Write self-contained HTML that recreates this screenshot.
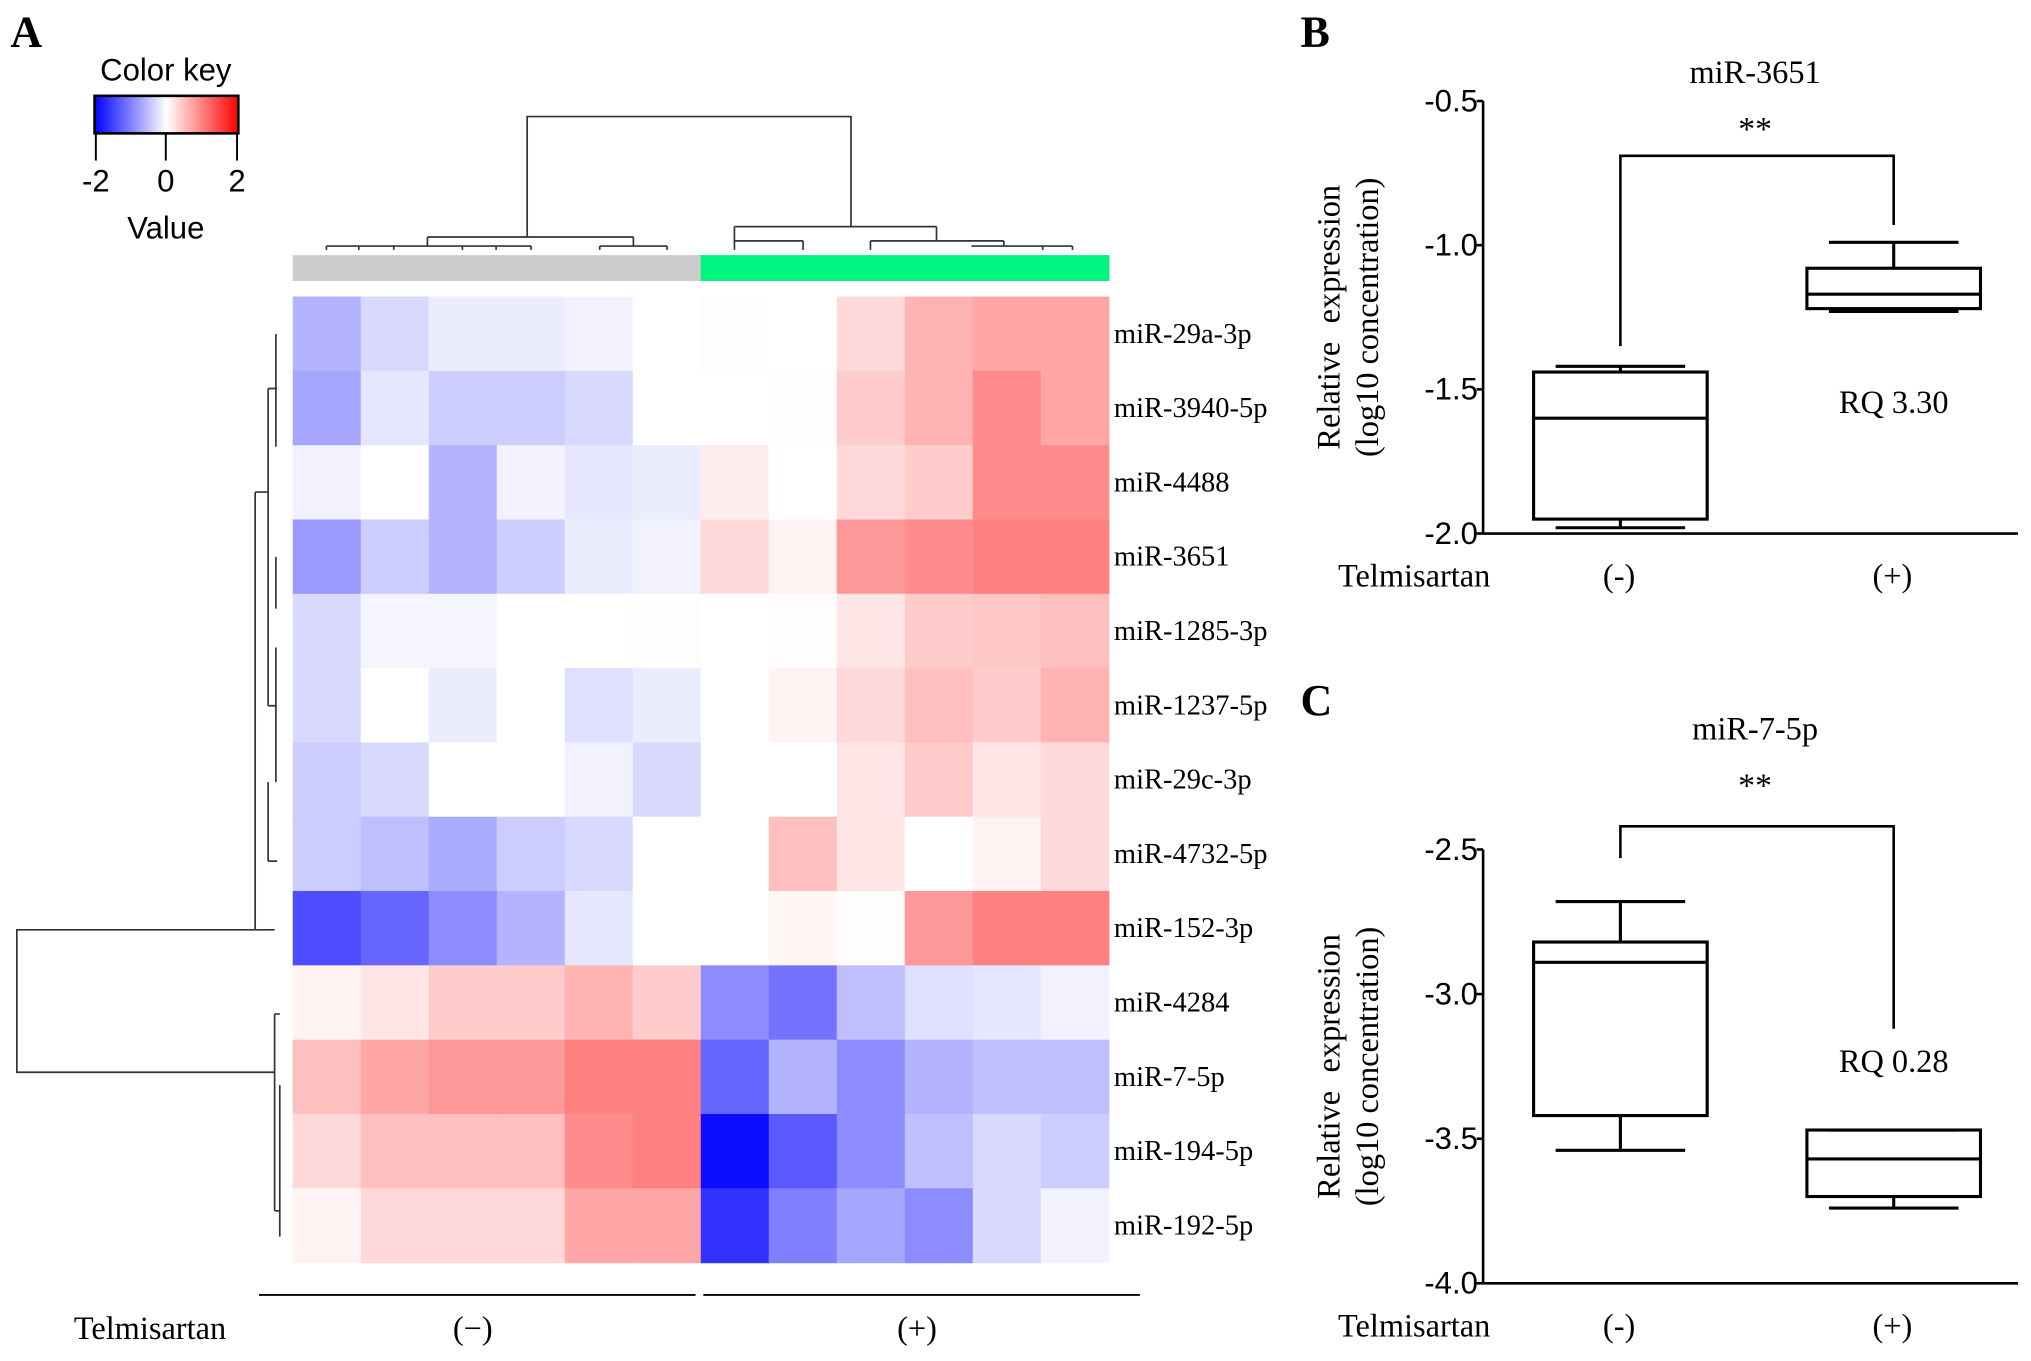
<!DOCTYPE html>
<html><head><meta charset="utf-8"><style>
html,body{margin:0;padding:0;background:#fff;width:2031px;height:1361px;overflow:hidden}
svg{display:block}
.serif{font-family:"Liberation Serif",serif}
.sans{font-family:"Liberation Sans",sans-serif}
</style></head><body>
<svg id="fig" width="2031" height="1361" viewBox="0 0 1568 1051" preserveAspectRatio="none" xmlns="http://www.w3.org/2000/svg">
<g id="panelA">
 <text class="serif" x="8" y="36" font-size="34" font-weight="bold">A</text>
 <text class="sans" x="128" y="62" font-size="24" text-anchor="middle">Color key</text>
 <defs><linearGradient id="ck" x1="0" x2="1"><stop offset="0" stop-color="#0000ff"/><stop offset="0.5" stop-color="#ffffff"/><stop offset="1" stop-color="#ff0000"/></linearGradient></defs>
 <rect x="73" y="74" width="111" height="29" fill="url(#ck)" stroke="#000" stroke-width="2"/>
 <g stroke="#000" stroke-width="1.5"><line x1="74" y1="103" x2="74" y2="124"/><line x1="128" y1="103" x2="128" y2="124"/><line x1="183" y1="103" x2="183" y2="124"/></g>
 <g class="sans" font-size="24" text-anchor="middle"><text x="74" y="148">-2</text><text x="128" y="148">0</text><text x="183" y="148">2</text></g>
 <text class="sans" x="128" y="184" font-size="24" text-anchor="middle">Value</text>
 <g id="coldend" fill="none" stroke="#333" stroke-width="1.3">
  <path d="M407 183 V90 H657 V175"/>
  <path d="M330 183 H489 M489 183 V190 M463 190 H515 M463 190 V193 M515 190 V193"/>
  <path d="M330 183 V190 M277 190 H383 M277 190 V193 M383 190 V193 M252 190 H304 M252 190 V193 M304 190 V193 M357 190 H410 M357 190 V193 M410 190 V193"/>
  <path d="M567 175 H723 M567 175 V190 M567 186 H620 M567 186 V193 M620 186 V193 M723 175 V186 M672 186 H775 M672 186 V193 M775 186 V190 M750 190 H805 M805 190 V193 M780 190 H828 M828 190 V193"/>
 </g>
 <g id="rowdend" fill="none" stroke="#333" stroke-width="1.3">
  <path d="M212 828 H13 V718 H197"/>
  <path d="M197 718 V380 M197 718 H212 M197 380 H207 M207 300 V545 M207 300 H214 M207 545 H213 M213 258 V345 M213 430 V470 M213 500 V604 M207 604 V665 M207 665 H214"/>
  <path d="M212 783 V935 M212 783 H216 M212 935 H216 M216 838 V895 M216 895 V955"/>
 </g>
 <g id="heat"></g>
 <g id="rowlabels" class="serif" font-size="22"></g>
 <g stroke="#000" stroke-width="1.5"><line x1="200" y1="1000" x2="537" y2="1000"/><line x1="543" y1="1000" x2="880" y2="1000"/></g>
 <text class="serif" x="57" y="1034" font-size="25">Telmisartan</text>
 <text class="serif" x="365" y="1034" font-size="25" text-anchor="middle">(−)</text>
 <text class="serif" x="708" y="1034" font-size="25" text-anchor="middle">(+)</text>
</g>
<text class="serif" x="1004" y="36" font-size="34" font-weight="bold">B</text>
<text class="serif" x="1004" y="552" font-size="34" font-weight="bold">C</text>
<g id="panelB"></g>
<g id="panelC"></g>
</svg>
<script>
const NS='http://www.w3.org/2000/svg';
const rowNames=['miR-29a-3p','miR-3940-5p','miR-4488','miR-3651','miR-1285-3p','miR-1237-5p','miR-29c-3p','miR-4732-5p','miR-152-3p','miR-4284','miR-7-5p','miR-194-5p','miR-192-5p'];
const heatValues=[
[-0.6,-0.3,-0.15,-0.15,-0.1,0,0.02,0,0.3,0.6,0.7,0.7],
[-0.7,-0.2,-0.4,-0.4,-0.3,0,0,0.02,0.4,0.6,0.9,0.7],
[-0.1,0,-0.6,-0.1,-0.2,-0.15,0.15,0,0.3,0.4,0.9,0.9],
[-0.8,-0.4,-0.6,-0.4,-0.15,-0.1,0.3,0.1,0.8,0.9,1.0,1.0],
[-0.3,-0.08,-0.08,0,0,0.02,0,0.02,0.2,0.4,0.45,0.5],
[-0.3,0,-0.15,0,-0.25,-0.15,0,0.1,0.3,0.5,0.4,0.6],
[-0.4,-0.3,0,0,-0.1,-0.3,0,0,0.2,0.4,0.2,0.3],
[-0.4,-0.5,-0.65,-0.4,-0.3,0,0,0.5,0.2,0,0.1,0.3],
[-1.4,-1.2,-0.9,-0.6,-0.2,0,0,0.07,0.02,0.8,1.0,1.0],
[0.1,0.2,0.4,0.4,0.6,0.4,-0.9,-1.1,-0.5,-0.25,-0.2,-0.1],
[0.5,0.7,0.8,0.8,1.0,1.0,-1.2,-0.6,-0.9,-0.6,-0.5,-0.5],
[0.3,0.5,0.5,0.5,0.9,1.0,-1.9,-1.3,-0.9,-0.5,-0.3,-0.4],
[0.1,0.3,0.3,0.3,0.7,0.7,-1.6,-1.0,-0.7,-0.9,-0.3,-0.1]];
const groupColors=['#cccccc','#00f47f'];
const nCols=12;

const hx0=226,hx1=856,hy0=229,hy1=975;
const cw=(hx1-hx0)/nCols, rh=(hy1-hy0)/rowNames.length;
function colX(i){return hx0+i*cw}
function rowY(j){return hy0+j*rh}
function color(v){const t=Math.min(1,Math.abs(v)/2);const c=Math.round(255*(1-t));return v>=0?`rgb(255,${c},${c})`:`rgb(${c},${c},255)`}
const heat=document.getElementById('heat');
for(let i=0;i<nCols;i++){const r=document.createElementNS(NS,'rect');
r.setAttribute('x',colX(i));r.setAttribute('y',197);r.setAttribute('width',cw+0.5);r.setAttribute('height',20);
r.setAttribute('fill',groupColors[i<6?0:1]);


heat.appendChild(r);}
heatValues.forEach((row,j)=>row.forEach((v,i)=>{const r=document.createElementNS(NS,'rect');
r.setAttribute('x',colX(i));r.setAttribute('y',rowY(j));r.setAttribute('width',cw+0.5);r.setAttribute('height',rh+0.5);
r.setAttribute('fill',color(v));


heat.appendChild(r);}));
const rl=document.getElementById('rowlabels');
rowNames.forEach((n,j)=>{const t=document.createElementNS(NS,'text');t.setAttribute('x',860);t.setAttribute('y',rowY(j)+rh/2+7);t.textContent=n;


rl.appendChild(t);});

// box plot data
const bTicks=[-0.5,-1.0,-1.5,-2.0];
const bMinus=[-1.98,-1.95,-1.60,-1.44,-1.42];
const bPlus=[-1.23,-1.22,-1.17,-1.08,-0.99];
const bBracket=[-0.69,-1.35,-0.93];
const cTicks=[-2.5,-3.0,-3.5,-4.0];
const cMinus=[-3.54,-3.42,-2.89,-2.82,-2.68];
const cPlus=[-3.74,-3.70,-3.57,-3.47,-3.47];
const cBracket=[-2.42,-2.53,-3.12];

function el(p,tag,a,txt){const e=document.createElementNS(NS,tag);for(const k in a)e.setAttribute(k,a[k]);if(txt!=null)e.textContent=txt;p.appendChild(e);return e}
function boxPanel(g,o){
 const y=v=>o.y0+(v-o.vTop)/(o.vBot-o.vTop)*(o.y1-o.y0);
 const ax=1145;
 let e;
 e=el(g,'line',{x1:ax,y1:o.y0,x2:ax,y2:o.y1,stroke:'#000','stroke-width':2});
 e=el(g,'line',{x1:ax,y1:o.y1,x2:1558,y2:o.y1,stroke:'#000','stroke-width':2});
 o.ticks.forEach(t=>{e=el(g,'line',{x1:ax-5,y1:y(t),x2:ax,y2:y(t),stroke:'#000','stroke-width':2});
  e=el(g,'text',{x:ax-4,y:y(t)+8,'font-size':24,'text-anchor':'end','font-family':'Liberation Sans, sans-serif'},t.toFixed(1));});
 const cy=(o.y0+o.y1)/2;
 e=el(g,'text',{x:1034,y:cy,'font-size':25,'text-anchor':'middle','font-family':'Liberation Serif, serif','word-spacing':'8',transform:`rotate(-90 1034 ${cy})`},'Relative  expression');
 e=el(g,'text',{x:1064,y:cy,'font-size':25,'text-anchor':'middle','font-family':'Liberation Serif, serif',transform:`rotate(-90 1064 ${cy})`},'(log10 concentration)');
 [[o.minus,1251],[o.plus,1462]].forEach(([d,cx],k)=>{
  const bg=el(g,'g',{stroke:'#000','stroke-width':2.4,fill:'none'});
  
  el(bg,'line',{x1:cx-50,y1:y(d[0]),x2:cx+50,y2:y(d[0])});
  el(bg,'line',{x1:cx,y1:y(d[0]),x2:cx,y2:y(d[1])});
  el(bg,'rect',{x:cx-67,y:y(d[3]),width:134,height:y(d[1])-y(d[3])});
  el(bg,'line',{x1:cx-67,y1:y(d[2]),x2:cx+67,y2:y(d[2])});
  el(bg,'line',{x1:cx,y1:y(d[3]),x2:cx,y2:y(d[4])});
  el(bg,'line',{x1:cx-50,y1:y(d[4]),x2:cx+50,y2:y(d[4])});
 });
 e=el(g,'path',{d:`M1251 ${y(o.br[1])} V${y(o.br[0])} H1462 V${y(o.br[2])}`,fill:'none',stroke:'#000','stroke-width':2});
 e=el(g,'text',{x:1355,y:o.titleY,'font-size':25,'text-anchor':'middle','font-family':'Liberation Serif, serif'},o.title);
 e=el(g,'text',{x:1355,y:o.titleY+44,'font-size':26,'text-anchor':'middle','font-family':'Liberation Serif, serif'},'**');
 e=el(g,'text',{x:1462,y:o.rqY,'font-size':25,'text-anchor':'middle','font-family':'Liberation Serif, serif'},o.rq);
 e=el(g,'text',{x:1033,y:o.y1+41,'font-size':25,'font-family':'Liberation Serif, serif'},'Telmisartan');
 e=el(g,'text',{x:1250,y:o.y1+41,'font-size':25,'text-anchor':'middle','font-family':'Liberation Serif, serif'},'(-)');
 e=el(g,'text',{x:1461,y:o.y1+41,'font-size':25,'text-anchor':'middle','font-family':'Liberation Serif, serif'},'(+)');
}
boxPanel(document.getElementById('panelB'),{y0:78,y1:412,vTop:-0.5,vBot:-2.0,ticks:bTicks,minus:bMinus,plus:bPlus,br:bBracket,title:'miR-3651',titleY:64,rq:'RQ 3.30',rqY:319});
boxPanel(document.getElementById('panelC'),{y0:656,y1:991,vTop:-2.5,vBot:-4.0,ticks:cTicks,minus:cMinus,plus:cPlus,br:cBracket,title:'miR-7-5p',titleY:571,rq:'RQ 0.28',rqY:828});
</script>
</body></html>
